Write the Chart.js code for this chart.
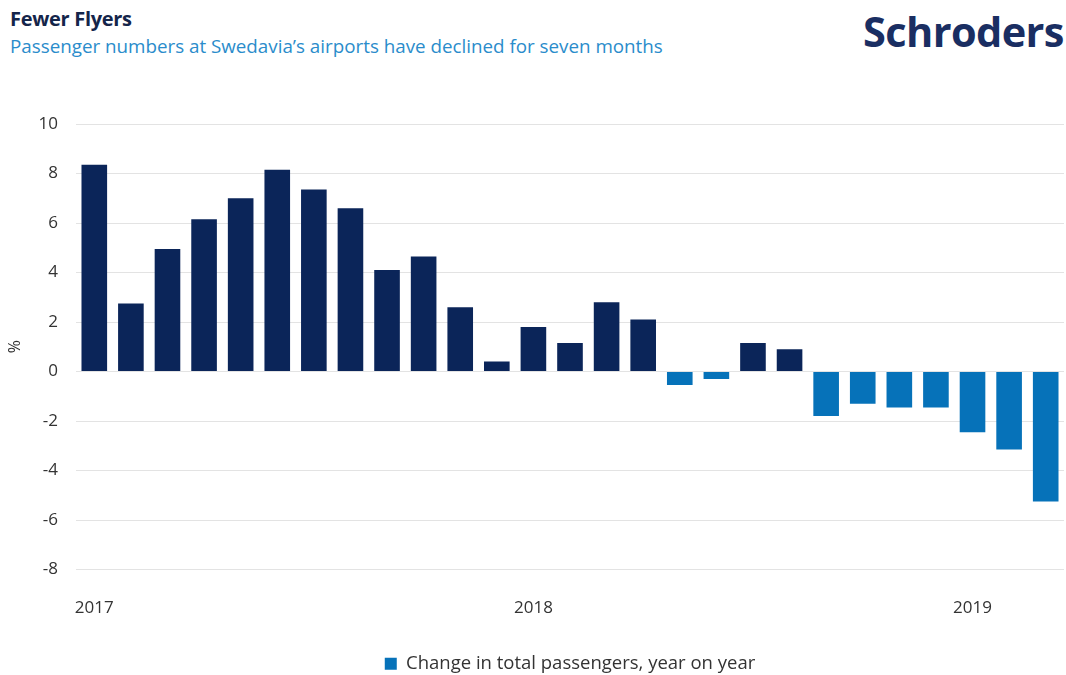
<!DOCTYPE html>
<html>
<head>
<meta charset="utf-8">
<script src="https://cdn.jsdelivr.net/npm/chart.js@4"></script>
<style>
  html, body { margin: 0; padding: 0; background: #fff; width: 1066px; height: 675px; overflow: hidden; }
  #wrap { position: relative; width: 1066px; height: 675px; font-family: "Open Sans", sans-serif; }
  #title { position: absolute; left: 10px; top: 6px; font-size: 20px; font-weight: 700; color: #14254a; letter-spacing: -0.3px; line-height: 26px; }
  #subtitle { position: absolute; left: 10px; top: 33px; font-size: 18.8px; color: #2a8ccb; line-height: 26px; }
  #logo { position: absolute; left: 863px; top: 3px; font-size: 41.5px; font-weight: 700; color: #1a2e62; letter-spacing: -0.6px; line-height: 56px; }
  canvas { position: absolute; left: 0; top: 0; }
</style>
</head>
<body>
<div id="wrap">
  <div id="title">Fewer Flyers</div>
  <div id="subtitle">Passenger numbers at Swedavia’s airports have declined for seven months</div>
  <div id="logo">Schroders</div>
  <canvas id="c" width="1066" height="675"></canvas>
</div>
<script>
const categories = [
  "Jan 2017","Feb 2017","Mar 2017","Apr 2017","May 2017","Jun 2017","Jul 2017","Aug 2017","Sep 2017","Oct 2017","Nov 2017","Dec 2017",
  "Jan 2018","Feb 2018","Mar 2018","Apr 2018","May 2018","Jun 2018","Jul 2018","Aug 2018","Sep 2018","Oct 2018","Nov 2018","Dec 2018",
  "Jan 2019","Feb 2019","Mar 2019"
];
const tickLabels = [
  "2017","","","","","","","","","","","",
  "2018","","","","","","","","","","","",
  "2019","",""
];
const passengerChange = [
  8.35, 2.75, 4.95, 6.15, 7.0, 8.15, 7.35, 6.6, 4.1, 4.65, 2.6, 0.4,
  1.8, 1.15, 2.8, 2.1, -0.55, -0.3, 1.15, 0.9, -1.8, -1.3, -1.45, -1.45,
  -2.45, -3.15, -5.25
];
const seriesName = "Change in total passengers, year on year";

const NAVY = "#0b2559";
const BLUE = "#0672b9";

new Chart(document.getElementById("c"), {
  type: "bar",
  data: {
    labels: categories,
    datasets: [{
      label: seriesName,
      data: passengerChange,
      backgroundColor: ctx => (ctx.raw < 0 ? BLUE : NAVY),
      borderWidth: 0,
      barPercentage: 0.7,
      categoryPercentage: 1.0
    }]
  },
  options: {
    responsive: false,
    animation: false,
    layout: { padding: { top: 124, left: 6, right: 2, bottom: -8 } },
    plugins: {
      tooltip: { enabled: false },
      legend: {
        position: "bottom",
        fullSize: false,
        labels: {
          boxWidth: 12,
          boxHeight: 12,
          padding: 0,
          color: "#333",
          font: { family: "Open Sans", size: 18.5 },
          generateLabels: () => [{
            text: seriesName, fillStyle: BLUE, strokeStyle: BLUE, lineWidth: 0, datasetIndex: 0, fontColor: "#333"
          }]
        }
      }
    },
    scales: {
      x: {
        afterFit: axis => { axis.height = 85; },
        grid: { display: true, drawOnChartArea: false, drawTicks: true, tickLength: 28, color: "rgba(0,0,0,0)" },
        border: { display: false },
        ticks: {
          autoSkip: false, maxRotation: 0, minRotation: 0, padding: 0,
          color: "#333", font: { family: "Open Sans", size: 17 },
          callback: (v, i) => tickLabels[i]
        }
      },
      y: {
        min: -8, max: 10,
        afterFit: axis => { axis.width = 70; },
        grid: { color: "#e3e3e3", drawTicks: false, lineWidth: 1 },
        border: { display: false },
        ticks: { stepSize: 2, padding: 18, color: "#333", font: { family: "Open Sans", size: 17 } },
        title: { display: true, text: "%", color: "#333", font: { family: "Open Sans", size: 16 }, padding: { top: 0, bottom: 0 } }
      }
    }
  }
});
</script>
</body>
</html>
